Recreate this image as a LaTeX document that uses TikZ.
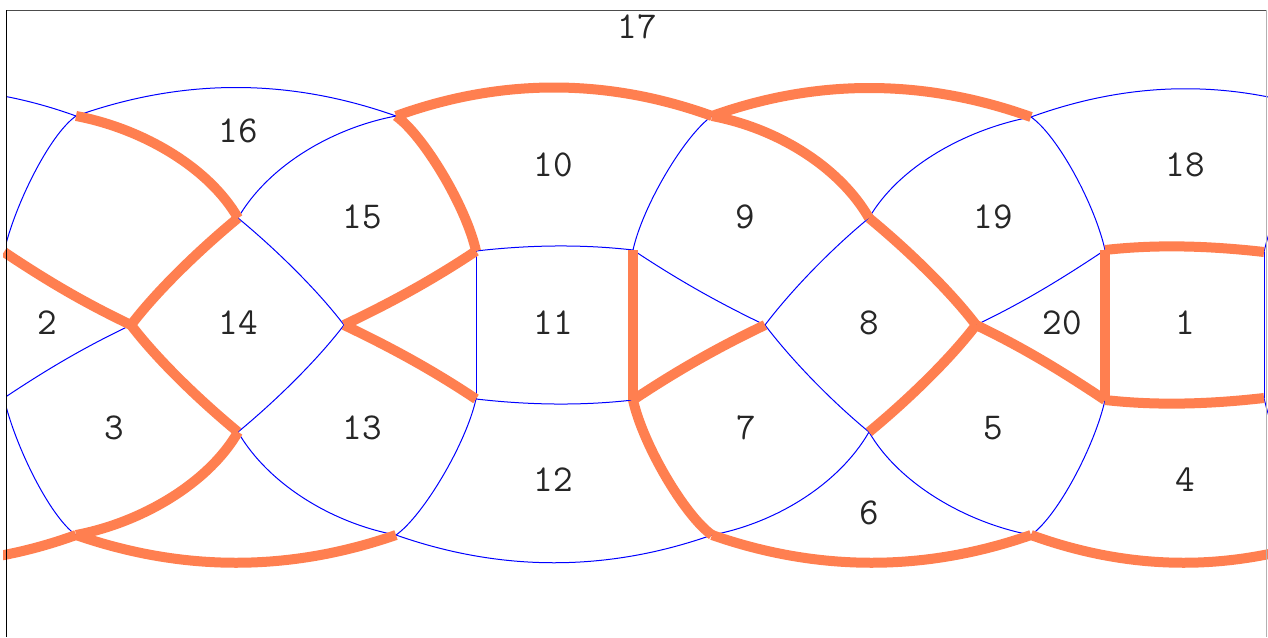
\documentclass[tikz,border=0pt]{standalone}
\usepackage{fontspec}
\definecolor{edgeorange}{RGB}{255,127,80}
\tikzset{
  thinedge/.style={draw=blue, line width=1pt},
  thickedge/.style={draw=edgeorange, line width=10pt, line cap=butt},
  facelabel/.style={font=\fontsize{38}{42}\selectfont\ttfamily, text=black!85, inner sep=0pt},
}
\begin{document}
\begin{tikzpicture}[x=1pt,y=-1pt]
\useasboundingbox (0,0) rectangle (1268,637);
% vertices
\coordinate (A0) at (-229,117);
\coordinate (A1) at (76,116);
\coordinate (A2) at (396,116);
\coordinate (A3) at (712,116);
\coordinate (A4) at (1031,117);
\coordinate (A5) at (1336,116);
\coordinate (B1) at (238,218);
\coordinate (B2) at (869,218);
\coordinate (C0) at (4,252);
\coordinate (C1) at (476,251);
\coordinate (C2) at (633,250);
\coordinate (C3) at (1105,250);
\coordinate (C4) at (1264,252);
\coordinate (D1) at (131,325);
\coordinate (D2) at (344,325);
\coordinate (D3) at (765,325);
\coordinate (D4) at (976,325);
\coordinate (E0) at (4,398);
\coordinate (E1) at (476,399);
\coordinate (E2) at (633,400);
\coordinate (E3) at (1105,400);
\coordinate (E4) at (1264,398);
\coordinate (F1) at (238,432);
\coordinate (F2) at (869,432);
\coordinate (G0) at (-229,535);
\coordinate (G1) at (76,535);
\coordinate (G2) at (396,535);
\coordinate (G3) at (712,535);
\coordinate (G4) at (1031,535);
\coordinate (G5) at (1336,535);
\begin{scope}
\clip (7,0) rectangle (1268,637);
% ---- blue edges
\draw[thinedge] (A0) .. controls +(102,-37) and +(-102,-37) .. (A1);
\draw[thinedge] (A4) .. controls +(102,-37) and +(-102,-37) .. (A5);
\draw[thinedge] (A1) .. controls +(107,-38) and +(-107,-38) .. (A2);
\draw[thinedge] (G2) .. controls +(105,37) and +(-105,37) .. (G3);
\draw[thinedge] (A2) .. controls +(-64,12) and +(30,-52) .. (B1);
\draw[thinedge] (A4) .. controls +(-64,12) and +(30,-52) .. (B2);
\draw[thinedge] (G2) .. controls +(-64,-12) and +(30,52) .. (F1);
\draw[thinedge] (G3) .. controls +(64,-12) and +(-30,52) .. (F2);
\draw[thinedge] (G4) .. controls +(-64,-12) and +(30,52) .. (F2);
\draw[thinedge] (B1) .. controls +(40,33) and +(-25,-33) .. (D2);
\draw[thinedge] (B2) .. controls +(-40,33) and +(25,-33) .. (D3);
\draw[thinedge] (F1) .. controls +(40,-33) and +(-25,33) .. (D2);
\draw[thinedge] (F2) .. controls +(-40,-33) and +(25,33) .. (D3);
\draw[thinedge] (A1) .. controls +(-27,19) and +(10,-45) .. (C0);
\draw[thinedge] (A5) .. controls +(-27,19) and +(10,-45) .. (C4);
\draw[thinedge] (A3) .. controls +(-27,19) and +(10,-45) .. (C2);
\draw[thinedge] (A4) .. controls +(27,19) and +(-10,-45) .. (C3);
\draw[thinedge] (G1) .. controls +(-27,-19) and +(10,45) .. (E0);
\draw[thinedge] (G5) .. controls +(-27,-19) and +(10,45) .. (E4);
\draw[thinedge] (G2) .. controls +(27,-19) and +(-10,45) .. (E1);
\draw[thinedge] (G4) .. controls +(27,-19) and +(-10,45) .. (E3);
\draw[thinedge] (C2) .. controls +(45,30) and +(-46,-22) .. (D3);
\draw[thinedge] (C3) .. controls +(-45,30) and +(46,-22) .. (D4);
\draw[thinedge] (E0) .. controls +(45,-30) and +(-46,22) .. (D1);
\draw[thinedge] (C1) .. controls +(52,-6) and +(-52,-6) .. (C2);
\draw[thinedge] (E1) .. controls +(52,6) and +(-52,6) .. (E2);
\draw[thinedge] (C1) -- (E1);
\draw[thinedge] (C4) -- (E4);
\end{scope}
\begin{scope}
\clip (3,0) rectangle (1268,637);
% ---- orange edges
\draw[thickedge] (A2) .. controls +(105,-38) and +(-105,-38) .. (A3);
\draw[thickedge] (A3) .. controls +(106,-38) and +(-106,-38) .. (A4);
\draw[thickedge] (G0) .. controls +(102,37) and +(-102,37) .. (G1);
\draw[thickedge] (G4) .. controls +(102,37) and +(-102,37) .. (G5);
\draw[thickedge] (G1) .. controls +(107,37) and +(-107,37) .. (G2);
\draw[thickedge] (G3) .. controls +(106,37) and +(-106,37) .. (G4);
\draw[thickedge] (A1) .. controls +(64,12) and +(-30,-52) .. (B1);
\draw[thickedge] (A3) .. controls +(64,12) and +(-30,-52) .. (B2);
\draw[thickedge] (G1) .. controls +(64,-12) and +(-30,52) .. (F1);
\draw[thickedge] (B1) .. controls +(-40,33) and +(25,-33) .. (D1);
\draw[thickedge] (B2) .. controls +(40,33) and +(-25,-33) .. (D4);
\draw[thickedge] (F1) .. controls +(-40,-33) and +(25,33) .. (D1);
\draw[thickedge] (F2) .. controls +(40,-33) and +(-25,33) .. (D4);
\draw[thickedge] (A2) .. controls +(27,19) and +(-10,-45) .. (C1);
\draw[thickedge] (G3) .. controls +(-27,-19) and +(10,45) .. (E2);
\draw[thickedge] (C0) .. controls +(45,30) and +(-46,-22) .. (D1);
\draw[thickedge] (C1) .. controls +(-45,30) and +(46,-22) .. (D2);
\draw[thickedge] (E1) .. controls +(-45,-30) and +(46,22) .. (D2);
\draw[thickedge] (E2) .. controls +(45,-30) and +(-46,22) .. (D3);
\draw[thickedge] (E3) .. controls +(-45,-30) and +(46,22) .. (D4);
\draw[thickedge] (C3) .. controls +(53,-6) and +(-53,-6) .. (C4);
\draw[thickedge] (E3) .. controls +(53,6) and +(-53,6) .. (E4);
\draw[thickedge] (C2) -- (E2);
\draw[thickedge] (C3) -- (E3);
\end{scope}
% frame
\coordinate (fTL) at (6.7,10);
\coordinate (fBL) at (6.7,637);
\coordinate (fTR) at (1266.7,10);
\coordinate (fBR) at (1266.7,637);
\draw[black, line width=1pt] (fTL) -- (fBL);
\draw[black!70, line width=1pt] (fTL) -- (fTR);
\draw[black!30, line width=1pt] (fTR) -- (fBR);
% labels
\node[facelabel] (l17) at (637,27) {17};
\node[facelabel] (l16) at (238,131) {16};
\node[facelabel] (l15) at (362,217) {15};
\node[facelabel] (l10) at (553,165) {10};
\node[facelabel] (l9) at (745,217) {9};
\node[facelabel] (l19) at (993,217) {19};
\node[facelabel] (l18) at (1185,165) {18};
\node[facelabel] (l2) at (47,323) {2};
\node[facelabel] (l14) at (238,323) {14};
\node[facelabel] (l11) at (553,323) {11};
\node[facelabel] (l8) at (869,323) {8};
\node[facelabel] (l20) at (1062,323) {20};
\node[facelabel] (l1) at (1185,323) {1};
\node[facelabel] (l3) at (114,428) {3};
\node[facelabel] (l13) at (362,428) {13};
\node[facelabel] (l12) at (553,480) {12};
\node[facelabel] (l7) at (746,428) {7};
\node[facelabel] (l6) at (869,513) {6};
\node[facelabel] (l5) at (993,428) {5};
\node[facelabel] (l4) at (1185,480) {4};
\end{tikzpicture}
\end{document}
